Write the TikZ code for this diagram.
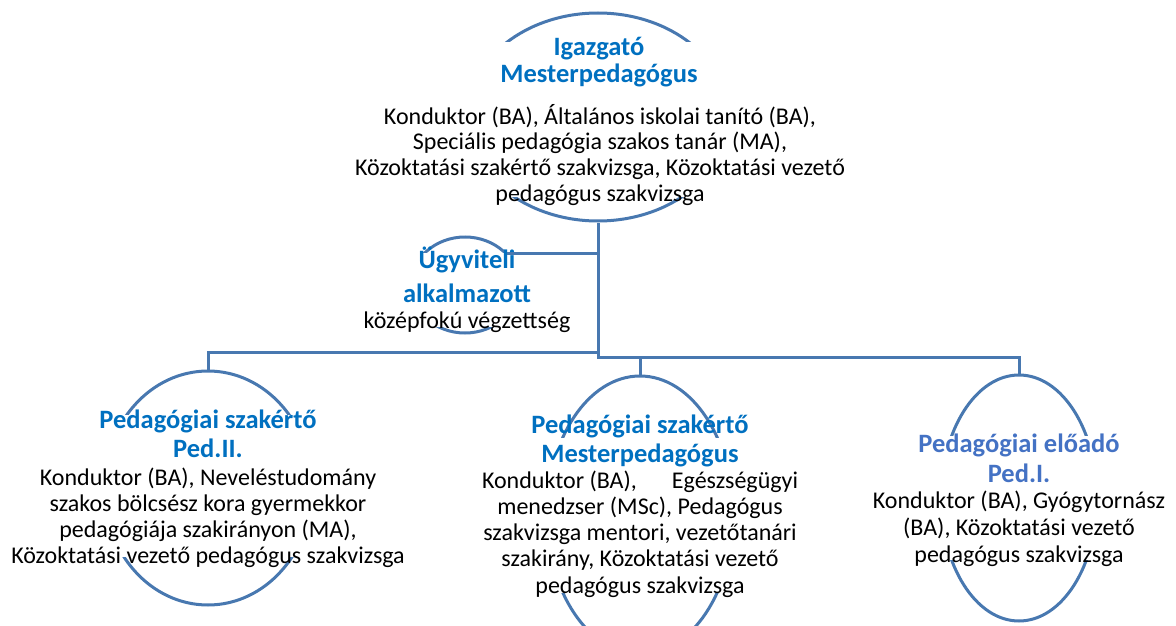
\documentclass[tikz,border=0pt]{standalone}
\usepackage{fontspec}
\setmainfont{Carlito}
\usetikzlibrary{shapes.geometric}
\definecolor{lineblue}{HTML}{4878B0}
\definecolor{titleblue}{HTML}{0070C0}
\definecolor{titleblueB}{HTML}{4472C4}
\begin{document}
\begin{tikzpicture}[x=1pt,y=-1pt,
  oval/.style={ellipse, draw=lineblue, line width=3pt, inner sep=0pt},
  cover/.style={fill=white},
  ttl/.style={font=\fontsize{26.5}{#1}\selectfont\bfseries, text=titleblue, align=center, inner sep=0pt, anchor=north},
  ttl/.default=28pt,
  body/.style={font=\fontsize{24}{#1}\selectfont, align=center, inner sep=0pt, anchor=north},
  body/.default=26pt,
  conn/.style={draw=lineblue, line width=3pt}
]
\useasboundingbox (0,0) rectangle (1176,626);
% ellipses
\node[oval, minimum width=262pt, minimum height=208pt] (top) at (598,117) {};
\node[oval, minimum width=108pt, minimum height=96pt] (ugy) at (465,285) {};
\node[oval, minimum width=208pt, minimum height=234pt] (ped2) at (208,488) {};
\node[oval, minimum width=186pt, minimum height=278pt] (mp) at (640,515) {};
\node[oval, minimum width=156pt, minimum height=246pt] (ped1) at (1019,498) {};
% text areas hiding the sides of the ovals
\fill[cover] (455,42) rectangle (745,197);
\fill[cover] (400,253) rectangle (530,327);
\fill[cover] (90,415) rectangle (325,557);
\fill[cover] (535,438) rectangle (745,593);
\fill[cover] (930,436) rectangle (1110,560);
% texts
\node[ttl=27pt] (topT) at (599,36.1) {\strut Igazgató\\Mesterpedagógus};
\node[body=25.7pt] (topB) at (600,104) {\strut Konduktor (BA), Általános iskolai tanító (BA),\\Speciális pedagógia szakos tanár (MA),\\Közoktatási szakértő szakvizsga, Közoktatási vezető\\pedagógus szakvizsga};
\node[ttl=34pt] (ugyT) at (467,244.2) {\strut Ügyviteli\\alkalmazott};
\node[body=26pt] (ugyB) at (467,310) {\strut középfokú végzettség};
\node[ttl=29pt] (ped2T) at (208,407.7) {\strut Pedagógiai szakértő\\Ped.II.};
\node[body=26pt] (ped2B) at (208,466.8) {\strut Konduktor (BA), Neveléstudomány\\szakos bölcsész kora gyermekkor\\pedagógiája szakirányon (MA),\\Közoktatási vezető pedagógus szakvizsga};
\node[ttl=29pt] (mpT) at (640,412.7) {\strut Pedagógiai szakértő\\Mesterpedagógus};
\node[body=26.25pt] (mpB) at (640,469.6) {\strut\makebox[316pt]{Konduktor (BA),\hfill Egészségügyi}\\menedzser (MSc), Pedagógus\\szakvizsga mentori, vezetőtanári\\szakirány, Közoktatási vezető\\pedagógus szakvizsga};
\node[ttl=30pt, text=titleblueB] (ped1T) at (1019,431) {\strut Pedagógiai előadó\\Ped.I.};
\node[body=27pt] (ped1B) at (1019,489.1) {\strut Konduktor (BA), Gyógytornász\\(BA), Közoktatási vezető\\pedagógus szakvizsga};
% connectors
\coordinate (jr) at (598,357);
\coordinate (jl) at (598,352);
\draw[conn] (top.south) -- (jr) -| (ped1.north);
\draw[conn] (jl) -| (ped2.north);
\draw[conn] (mp.north |- jr) -- (mp.north);
\draw[conn] (ugy.37) -- (ugy.37 -| top.south);
\end{tikzpicture}
\end{document}
